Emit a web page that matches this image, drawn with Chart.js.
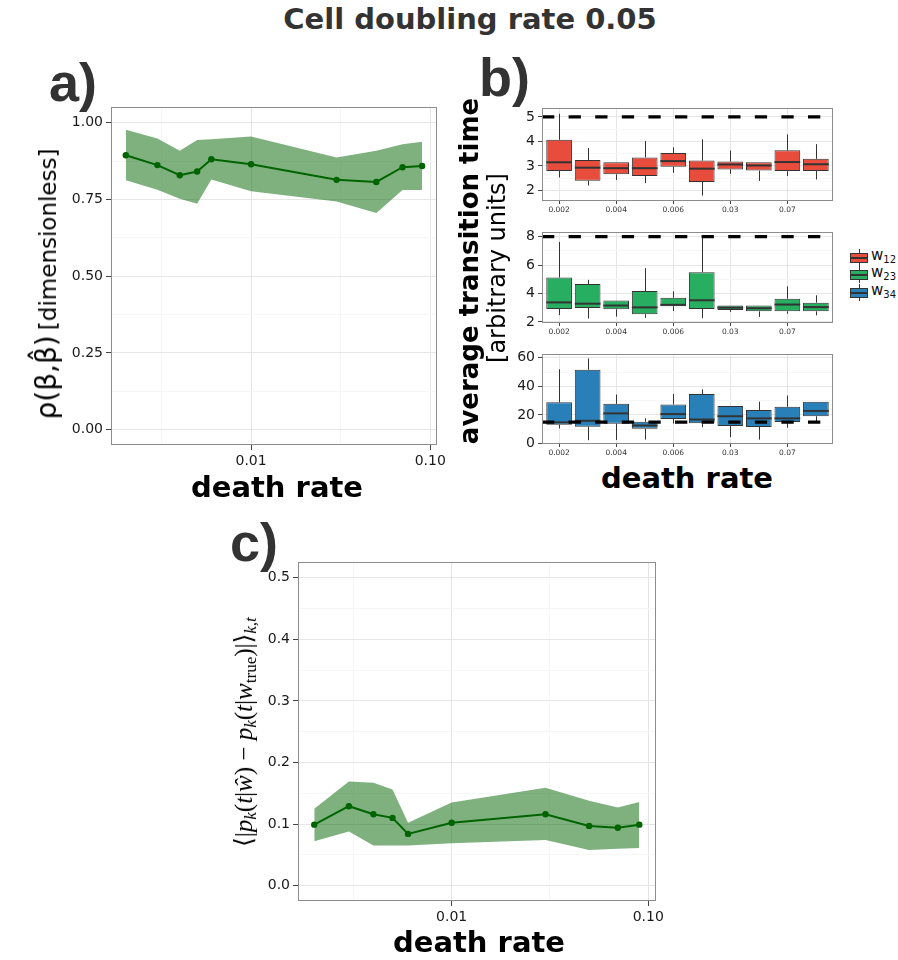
<!DOCTYPE html>
<html><head><meta charset="utf-8">
<script src="https://cdn.jsdelivr.net/npm/chart.js@4/dist/chart.umd.min.js"></script>
<style>
body{margin:0;background:#fff;width:898px;height:960px;position:relative;overflow:hidden;font-family:"DejaVu Sans",sans-serif;}
canvas{position:absolute;}
.t{position:absolute;white-space:nowrap;line-height:1;z-index:5;}
.rot{position:absolute;white-space:nowrap;line-height:1;transform:translate(-50%,-50%) rotate(-90deg);z-index:5;color:#000;}
.math{font-family:"Liberation Serif","DejaVu Serif",serif;font-size:25px;}
.math sub{font-size:17px;vertical-align:-4px;}
.lg{position:absolute;left:850px;width:18px;height:18px;z-index:5;}
.lg .wh{position:absolute;left:8.5px;top:0;width:1px;height:17px;background:#333;}
.lg .bx{position:absolute;left:0;top:3.5px;width:16px;height:8.5px;border:1px solid #333;}
.lg .md{position:absolute;left:0;top:8px;width:18px;height:1.5px;background:#333;}
.lgt{position:absolute;left:871px;font-size:15px;line-height:1;z-index:5;color:#111;}
.lgt sub{font-size:10px;vertical-align:-3px;}
</style></head><body>

<canvas id="ca"></canvas>
<canvas id="cb1"></canvas>
<canvas id="cb2"></canvas>
<canvas id="cb3"></canvas>
<canvas id="cc"></canvas>

<div class="t" style="left:470px;top:2px;transform:translateX(-50%);font:bold 29px 'DejaVu Sans';color:#333">Cell doubling rate 0.05</div>
<div class="t" style="left:49px;top:51px;font:bold 54px 'Liberation Sans';color:#333">a)</div>
<div class="t" style="left:479px;top:46px;font:bold 54px 'Liberation Sans';color:#333">b)</div>
<div class="t" style="left:230px;top:511px;font:bold 54px 'Liberation Sans';color:#333">c)</div>

<div class="t" style="left:277px;top:470px;transform:translateX(-50%);font:bold 29px 'DejaVu Sans';color:#000">death rate</div>
<div class="t" style="left:687px;top:461px;transform:translateX(-50%);font:bold 29px 'DejaVu Sans';color:#000">death rate</div>
<div class="t" style="left:479px;top:925px;transform:translateX(-50%);font:bold 29px 'DejaVu Sans';color:#000">death rate</div>

<div class="rot" style="left:47px;top:284px;"><span style="font-size:28px">ρ(β,β&#770;)</span> <span style="font-size:23px">[dimensionless]</span></div>
<div class="rot" style="left:469px;top:271px;font:bold 26px 'DejaVu Sans'">average transition time</div>
<div class="rot" style="left:497px;top:268px;font:24px 'DejaVu Sans'">[arbitrary units]</div>
<div class="rot math" style="left:245px;top:732px;">⟨|<i>p</i><sub><i>k</i></sub>(<i>t</i>|<i>w&#770;</i>) − <i>p</i><sub><i>k</i></sub>(<i>t</i>|<i>w</i><sub>true</sub>)|⟩<sub><i>k,t</i></sub></div>

<div class="lg" style="top:249px"><div class="wh"></div><div class="bx" style="background:#E74C3C"></div><div class="md"></div></div>
<div class="lg" style="top:266px"><div class="wh"></div><div class="bx" style="background:#27AE60"></div><div class="md"></div></div>
<div class="lg" style="top:284px"><div class="wh"></div><div class="bx" style="background:#2980B9"></div><div class="md"></div></div>
<div class="lgt" style="top:248px">w<sub>12</sub></div>
<div class="lgt" style="top:265px">w<sub>23</sub></div>
<div class="lgt" style="top:283px">w<sub>34</sub></div>

<script>
// ---------------- data ----------------
const deathRates = [0.002,0.003,0.004,0.005,0.006,0.01,0.03,0.05,0.07,0.09];
const deathRateLabels = ['0.002','0.003','0.004','0.005','0.006','0.01','0.03','0.05','0.07','0.09'];

// panel a: correlation rho
const rhoMean  = [0.894,0.862,0.829,0.841,0.881,0.865,0.814,0.807,0.855,0.859];
const rhoUpper = [0.977,0.949,0.909,0.944,0.946,0.955,0.887,0.909,0.930,0.938];
const rhoLower = [0.813,0.782,0.752,0.736,0.815,0.777,0.743,0.706,0.781,0.781];

// panel c: mean distribution distance
const distMean  = [0.099,0.129,0.116,0.110,0.084,0.102,0.116,0.097,0.094,0.099];
const distUpper = [0.125,0.169,0.167,0.156,0.102,0.135,0.159,0.138,0.127,0.136];
const distLower = [0.072,0.088,0.065,0.065,0.065,0.069,0.074,0.058,0.060,0.061];

// panel b: boxplot statistics of transition times
const w12Min = [2.53,2.20,2.43,2.30,2.72,1.79,2.68,2.39,2.59,2.45];
const w12Q1  = [2.79,2.40,2.66,2.59,2.97,2.35,2.86,2.81,2.79,2.79];
const w12Med = [3.15,2.93,2.91,2.91,3.20,2.89,3.06,3.02,3.16,3.07];
const w12Q3  = [4.07,3.24,3.15,3.35,3.53,3.22,3.18,3.15,3.64,3.29];
const w12Max = [5.13,3.73,3.15,4.02,3.76,4.09,3.63,3.15,4.29,3.89];

const w23Min = [2.48,2.24,2.37,2.28,2.76,2.26,2.70,2.35,2.57,2.46];
const w23Q1  = [2.91,2.98,2.89,2.54,3.10,2.91,2.83,2.74,2.74,2.74];
const w23Med = [3.37,3.28,3.15,3.02,3.20,3.52,3.00,2.96,3.22,3.04];
const w23Q3  = [5.13,4.67,3.50,4.17,3.70,5.50,3.15,3.15,3.63,3.35];
const w23Max = [7.63,4.96,3.50,5.78,4.15,7.96,3.15,3.15,4.50,3.87];

const w34Min = [10.5,2.3,2.5,2.7,13.9,11.4,4.4,2.7,11.1,15.7];
const w34Q1  = [13.1,11.8,13.9,10.3,17.2,14.2,12.2,11.6,15.0,19.1];
const w34Med = [14.8,15.9,21.1,12.6,20.6,16.8,19.1,17.6,17.6,22.8];
const w34Q3  = [28.9,51.6,27.8,15.2,27.4,34.7,26.3,23.5,25.8,29.3];
const w34Max = [52.0,59.6,34.3,17.6,34.7,37.9,26.3,29.3,33.6,29.3];

const trueTimes = [5, 8, 15];

// tick values / labels
const logXTicks = [0.01, 0.1];
const logXTickLabels = ['0.01', '0.10'];
const rhoTicks = [0, 0.25, 0.5, 0.75, 1.0];
const rhoTickLabels = ['0.00','0.25','0.50','0.75','1.00'];
const distTicks = [0, 0.1, 0.2, 0.3, 0.4, 0.5];
const distTickLabels = ['0.0','0.1','0.2','0.3','0.4','0.5'];
const w12Ticks = [2,3,4,5];
const w23Ticks = [2,4,6,8];
const w34Ticks = [0,20,40,60];
const boxXTickIdx = [1,3,5,7,9];

// ---------------- styling ----------------
const MAJOR = '#e6e6e6', MINOR = '#f6f6f6', TICKMARK = '#444', TICKC = '#1a1a1a', BORDER = '#8c8c8c';
const DARKGREEN = '#006400', BAND = 'rgba(0,100,0,0.5)';
const FONT = 'DejaVu Sans';

const borderPlugin = {
  id: 'panelBorder',
  afterDraw(chart) {
    const a = chart.chartArea, ctx = chart.ctx;
    ctx.save();
    ctx.strokeStyle = BORDER; ctx.lineWidth = 1;
    ctx.strokeRect(Math.round(a.left) + 0.5, Math.round(a.top) + 0.5,
                   Math.round(a.right) - Math.round(a.left) - 1, Math.round(a.bottom) - Math.round(a.top) - 1);
    ctx.restore();
  }
};

const boxPlugin = {
  id: 'boxStats',
  beforeDatasetsDraw(chart) {
    chart.data.datasets.forEach((ds, di) => {
      if (!ds.stats) return;
      const meta = chart.getDatasetMeta(di), ys = chart.scales.y, ctx = chart.ctx, st = ds.stats;
      ctx.save(); ctx.strokeStyle = '#333'; ctx.lineWidth = 1;
      meta.data.forEach((bar, i) => {
        const x = Math.round(bar.x) + 0.5;
        ctx.beginPath();
        ctx.moveTo(x, ys.getPixelForValue(st.max[i])); ctx.lineTo(x, ys.getPixelForValue(st.q3[i]));
        ctx.moveTo(x, ys.getPixelForValue(st.q1[i])); ctx.lineTo(x, ys.getPixelForValue(st.min[i]));
        ctx.stroke();
      });
      ctx.restore();
    });
  },
  afterDatasetDraw(chart, args) {
    const ds = chart.data.datasets[args.index];
    if (!ds.stats) return;
    const meta = chart.getDatasetMeta(args.index), ys = chart.scales.y, ctx = chart.ctx;
    ctx.save(); ctx.strokeStyle = '#333'; ctx.lineWidth = 2;
    meta.data.forEach((bar, i) => {
      const y = ys.getPixelForValue(ds.stats.med[i]);
      ctx.beginPath(); ctx.moveTo(bar.x - bar.width / 2, y); ctx.lineTo(bar.x + bar.width / 2, y); ctx.stroke();
    });
    ctx.restore();
  }
};

function placeCanvas(id, area, YW, XH, PT, PR) {
  const c = document.getElementById(id);
  const w = (area.R - area.L) + YW + PR, h = (area.B - area.T) + PT + XH;
  c.width = w; c.height = h;
  c.style.width = w + 'px'; c.style.height = h + 'px';
  c.style.left = (area.L - YW) + 'px'; c.style.top = (area.T - PT) + 'px';
  return c;
}

function gridOpts(tickLen) {
  return {
    color: c => (c.tick && c.tick.minor) ? MINOR : MAJOR,
    tickColor: c => (c.tick && c.tick.minor) ? 'rgba(0,0,0,0)' : TICKMARK,
    tickLength: tickLen, lineWidth: 1, drawTicks: true
  };
}

function buildTicks(major, minor) {
  const t = major.map(v => ({ value: v })).concat(minor.map(v => ({ value: v, minor: true })));
  t.sort((a, b) => a.value - b.value);
  return t;
}

function labelFor(major, labels) {
  return function (v, i, ticks) {
    if (ticks[i].minor) return '';
    const k = major.findIndex(m => Math.abs(m - v) < 1e-9 * Math.max(1, Math.abs(m)));
    return k >= 0 ? (labels ? labels[k] : String(major[k])) : '';
  };
}

function logXScale(XH) {
  const lmin = Math.log10(deathRates[0]), lmax = Math.log10(deathRates[deathRates.length - 1]);
  const ex = (lmax - lmin) * 0.05;
  return {
    type: 'logarithmic', min: Math.pow(10, lmin - ex), max: Math.pow(10, lmax + ex), bounds: 'data',
    afterBuildTicks(s) { s.ticks = buildTicks(logXTicks, [Math.pow(10, -2.5), Math.pow(10, -1.5)]); },
    ticks: { autoSkip: false, maxRotation: 0, padding: 3, color: TICKC, font: { family: FONT, size: 14 },
             callback: labelFor(logXTicks, logXTickLabels) },
    grid: gridOpts(5), border: { display: false },
    afterFit(s) { s.height = XH; }
  };
}

function linYScale(min, max, major, minor, labels, YW, fsize, tl) {
  return {
    type: 'linear', min, max, bounds: 'data',
    afterBuildTicks(s) { s.ticks = buildTicks(major, minor); },
    ticks: { autoSkip: false, padding: 3, color: TICKC, font: { family: FONT, size: fsize },
             callback: labelFor(major, labels) },
    grid: gridOpts(tl), border: { display: false },
    afterFit(s) { s.width = YW; }
  };
}

function bandChart(id, area, mean, upper, lower, yScale) {
  const YW = 60, XH = 30, PT = 6, PR = 6;
  const c = placeCanvas(id, area, YW, XH, PT, PR);
  const pts = arr => deathRates.map((x, i) => ({ x, y: arr[i] }));
  return new Chart(c, {
    type: 'line',
    data: { datasets: [
      { data: pts(mean), borderColor: DARKGREEN, backgroundColor: DARKGREEN, borderWidth: 2,
        pointRadius: 3.2, pointBorderWidth: 0, pointBackgroundColor: DARKGREEN, fill: false, tension: 0 },
      { data: pts(upper), borderWidth: 0, borderColor: 'rgba(0,0,0,0)', pointRadius: 0, fill: '+1', backgroundColor: BAND, tension: 0 },
      { data: pts(lower), borderWidth: 0, borderColor: 'rgba(0,0,0,0)', pointRadius: 0, fill: false, tension: 0 }
    ]},
    options: {
      responsive: false, animation: false, devicePixelRatio: 1,
      layout: { padding: { top: PT, right: PR, left: 0, bottom: 0 } },
      plugins: { legend: { display: false }, tooltip: { enabled: false }, filler: { drawTime: 'beforeDatasetsDraw' } },
      scales: { x: logXScale(XH), y: yScale(YW) }
    },
    plugins: [borderPlugin]
  });
}

// panel a
bandChart('ca', { L: 111, T: 102, R: 443, B: 445 }, rhoMean, rhoUpper, rhoLower,
  YW => linYScale(-0.05, 1.05, rhoTicks, [0.125, 0.375, 0.625, 0.875], rhoTickLabels, YW, 14, 5));

// panel c
bandChart('cc', { L: 298, T: 557, R: 661, B: 901 }, distMean, distUpper, distLower,
  YW => linYScale(-0.025, 0.525, distTicks, [0.05, 0.15, 0.25, 0.35, 0.45], distTickLabels, YW, 14, 5));

// panel b
function boxChart(id, area, color, mn, q1, md, q3, mx, trueVal, yMin, yMax, yMajor, yMinor) {
  const YW = 34, XH = 14, PT = 4, PR = 4;
  const c = placeCanvas(id, area, YW, XH, PT, PR);
  const n = deathRates.length;
  return new Chart(c, {
    type: 'bar',
    data: { datasets: [
      { type: 'line', data: [{ x: 0.4, y: trueVal }, { x: n + 0.6, y: trueVal }], borderColor: '#000',
        borderWidth: 3.3, borderDash: [12.3, 14.3], pointRadius: 0, fill: false, order: 0 },
      { type: 'bar', data: q1.map((v, i) => ({ x: i + 1, y: [v, q3[i]] })), backgroundColor: color,
        borderColor: '#333', borderWidth: 1, borderSkipped: false, barPercentage: 0.9, categoryPercentage: 1.0,
        order: 1, stats: { min: mn, q1, med: md, q3, max: mx } }
    ]},
    options: {
      responsive: false, animation: false, devicePixelRatio: 1,
      layout: { padding: { top: PT, right: PR, left: 0, bottom: 0 } },
      plugins: { legend: { display: false }, tooltip: { enabled: false } },
      scales: {
        x: { type: 'linear', min: 0.4, max: n + 0.6, bounds: 'data', offset: false,
             afterBuildTicks(s) { s.ticks = boxXTickIdx.map(v => ({ value: v })); },
             ticks: { autoSkip: false, maxRotation: 0, padding: 2, color: '#333', font: { family: FONT, size: 7.5 },
                      callback: v => deathRateLabels[Math.round(v) - 1] },
             grid: { color: MAJOR, tickColor: TICKMARK, tickLength: 3, offset: false },
             border: { display: false },
             afterFit(s) { s.height = XH; } },
        y: linYScale(yMin, yMax, yMajor, yMinor, null, YW, 14, 4)
      }
    },
    plugins: [boxPlugin, borderPlugin]
  });
}

const bL = 542, bR = 833;
boxChart('cb1', { L: bL, T: 101, R: bR, B: 201 }, '#E74C3C', w12Min, w12Q1, w12Med, w12Q3, w12Max, trueTimes[0], 1.57, 5.35, w12Ticks, [2.5, 3.5, 4.5]);
boxChart('cb2', { L: bL, T: 225, R: bR, B: 323 }, '#27AE60', w23Min, w23Q1, w23Med, w23Q3, w23Max, trueTimes[1], 1.92, 8.3, w23Ticks, [3, 5, 7]);
boxChart('cb3', { L: bL, T: 347, R: bR, B: 444 }, '#2980B9', w34Min, w34Q1, w34Med, w34Q3, w34Max, trueTimes[2], -0.35, 62.4, w34Ticks, [10, 30, 50]);
</script>
</body></html>
